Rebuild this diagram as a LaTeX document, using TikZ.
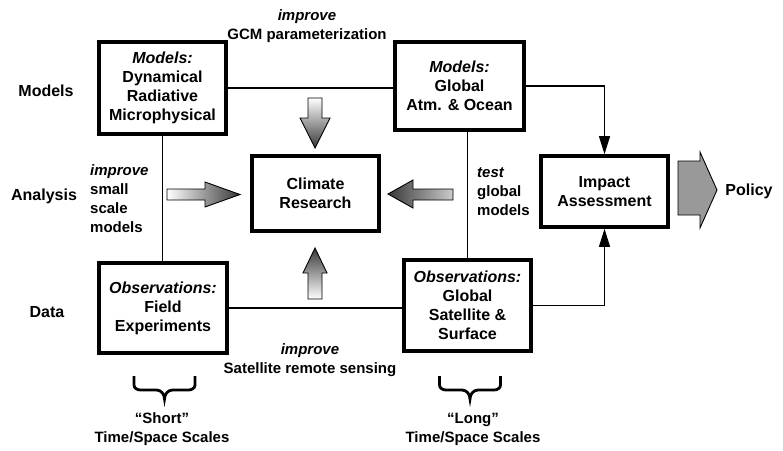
\documentclass[tikz,border=0pt]{standalone}
\usepackage{fontspec}
\setmainfont{Liberation Sans}
\usetikzlibrary{arrows.meta}
\begin{document}
\begin{tikzpicture}[x=1pt,y=-1pt,
  every node/.style={font=\fontsize{15}{19}\selectfont\bfseries, inner sep=0pt},
  bigtext/.style={font=\fontsize{16}{19}\selectfont\bfseries},
  box/.style={draw, line width=3.6pt, align=center, fill=white, bigtext},
  conn/.style={line width=1.1pt},
  tip/.style={-{Triangle[length=18pt,width=11pt]}},
  blockarrow/.style={draw, line width=0.9pt, line join=miter},
  scalebrace/.pic={
    \draw[line width=2.8pt] (-30.5,-12) -- (-30.5,-3) to[out=-90,in=180] (-24,2) -- (-8,2)
      to[out=0,in=90] (0,11) to[out=90,in=180] (8,2) -- (24,2) to[out=0,in=-90] (30.5,-3) -- (30.5,-12);
  }]
\useasboundingbox (0,0) rectangle (783,450);

% boxes
\node[box, minimum width=127pt, minimum height=92pt] (ML) at (162.5,88) {\textit{Models:}\\Dynamical\\Radiative\\Microphysical};
\node[box, minimum width=129pt, minimum height=88pt] (MR) at (459.5,86) {\textit{Models:}\\Global\\Atm. \& Ocean};
\node[box, minimum width=127pt, minimum height=75pt] (CR) at (315.5,193.5) {Climate\\Research};
\node[box, minimum width=127pt, minimum height=71pt] (IA) at (604.5,191.5) {Impact\\Assessment};
\node[box, minimum width=128pt, minimum height=90pt] (OL) at (163,308) {\textit{Observations:}\\Field\\Experiments};
\node[box, minimum width=127pt, minimum height=91pt] (OR) at (467.5,305.5) {\textit{Observations:}\\Global\\Satellite \&\\Surface};

% row labels
\node[bigtext] (lModels) at (46,91) {Models};
\node[bigtext] (lAnalysis) at (44,196) {Analysis};
\node[bigtext] (lData) at (47,312) {Data};

% annotations
\node[align=center] (gcm) at (307,26) {\textit{improve}\\GCM parameterization};
\node[align=left, anchor=west] (small) at (90,199) {\textit{improve}\\small\\scale\\models};
\node[align=left, anchor=west] (test) at (477,192) {\textit{test}\\global\\models};
\node[bigtext] (policy) at (749,191) {Policy};
\node[align=center] (sat) at (310,360) {\textit{improve}\\Satellite remote sensing};
\node[align=center] (short) at (162,429) {“Short”\\Time/Space Scales};
\node[align=center] (long) at (473,429) {“Long”\\Time/Space Scales};

% connectors
\draw[conn] (ML.east) -- (ML.east -| MR.west);
\draw[conn, tip] (MR.east) -| (IA.north);
\draw[conn] (ML.south) -- (ML.south |- OL.north);
\draw[conn] (OR.north |- MR.south) -- (OR.north);
\draw[conn] (OL.east) -- (OL.east -| OR.west);
\draw[conn, tip] (OR.east) -| (IA.south);

% block arrows
\path[blockarrow, top color=white, bottom color=black!78]
  (308,98) -- (322,98) -- (322,118) -- (330,118) -- (315,148) -- (300,118) -- (308,118) -- cycle;
\path[blockarrow, left color=white, right color=black!78]
  (167,189) -- (205,189) -- (205,182) -- (240,194.5) -- (205,207) -- (205,200) -- (167,200) -- cycle;
\path[blockarrow, left color=black!78, right color=black!20]
  (388,194) -- (413,180) -- (413,189) -- (453,189) -- (453,200) -- (413,200) -- (413,208) -- cycle;
\path[blockarrow, top color=black!78, bottom color=white]
  (315,248) -- (327,273) -- (322,273) -- (322,299) -- (308,299) -- (308,273) -- (303,273) -- cycle;
\path[blockarrow, fill=black!40]
  (678,161) -- (700,161) -- (700,152) -- (717,190) -- (700,228) -- (700,215) -- (678,215) -- cycle;

% braces
\pic at (164.5,388) {scalebrace};
\pic at (470,388) {scalebrace};
\end{tikzpicture}
\end{document}
